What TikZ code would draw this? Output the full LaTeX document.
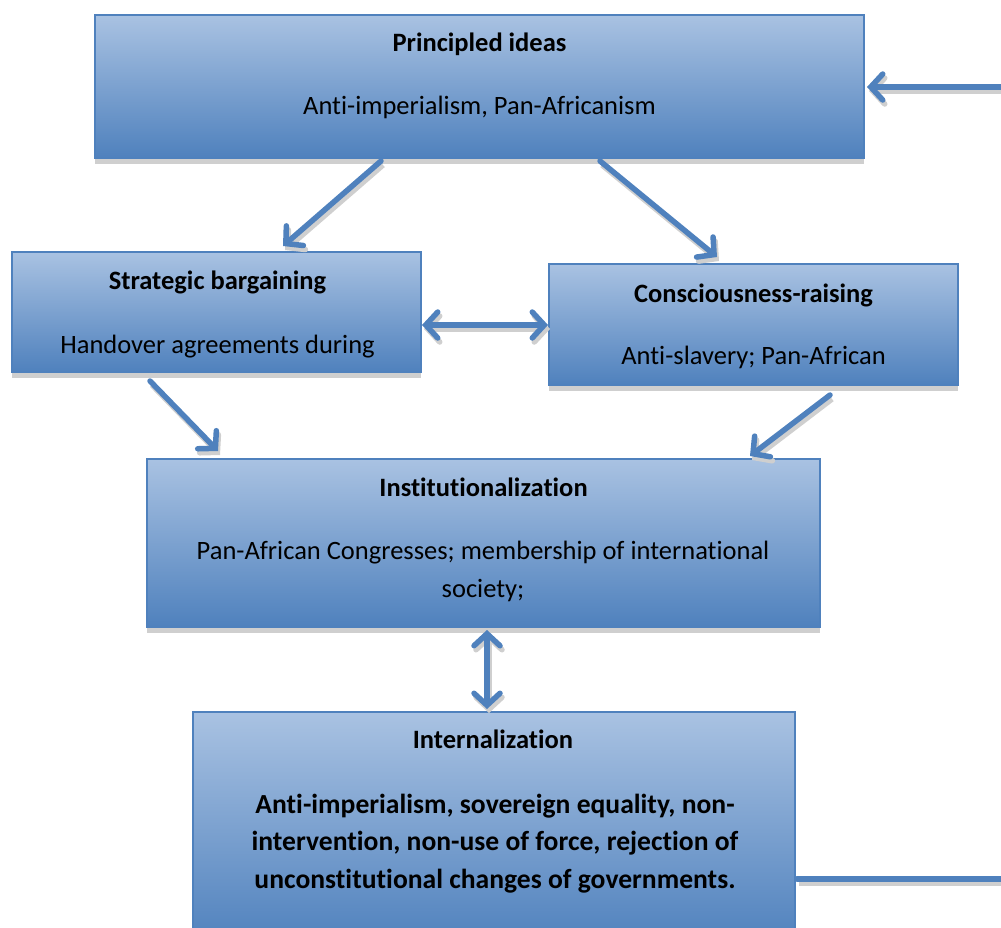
\documentclass[tikz,border=0pt]{standalone}
\usepackage{fontspec}
\setmainfont{Carlito}[Ligatures={NoCommon,NoRequired,NoContextual}]
\usetikzlibrary{arrows.meta,shadows}
\definecolor{accent}{HTML}{4F81BD}
\definecolor{lightacc}{HTML}{A9C2E2}
\definecolor{shad}{HTML}{CFCFCF}
\tikzset{
  box/.style={draw=accent, line width=1.5pt, top color=lightacc, bottom color=accent,
    drop shadow={shadow xshift=0pt, shadow yshift=-6pt, fill=shad, opacity=1}},
  ttl/.style={font=\fontsize{26.5}{30}\selectfont\bfseries, anchor=base, inner sep=0pt},
  txt/.style={font=\fontsize{26.5}{38}\selectfont, anchor=base, align=center, inner sep=0pt},
  btxt/.style={font=\fontsize{27.6}{37.5}\selectfont\bfseries, anchor=base, align=center, inner sep=0pt},
  conn/.style={draw=accent, line width=5.5pt, line cap=round,
    preaction={draw=shad, line width=5.5pt, transform canvas={shift={(2pt,-4pt)}}}},
  tip/.style={-{Straight Barb[length=12pt, width=26pt, line width=5.5pt, line cap=round]}},
  dtip/.style={{Straight Barb[length=12pt, width=26pt, line width=5.5pt, line cap=round]}-{Straight Barb[length=12pt, width=26pt, line width=5.5pt, line cap=round]}},
}
\begin{document}
\begin{tikzpicture}[x=1pt, y=-1pt]
\useasboundingbox (0,0) rectangle (1001,927);
\clip (0,0) rectangle (1001,927);
% boxes
\path[box] (95,15) rectangle (864,158);
\path[box] (12,252) rectangle (421,372);
\path[box] (549,264) rectangle (958,385);
\path[box] (147,459) rectangle (820,627);
\path[box] (193,712) rectangle (795,945);
% texts
\node[ttl] (t1) at (479.5,51.5) {Principled ideas};
\node[txt] (b1) at (479.5,114.5) {Anti-imperialism, Pan-Africanism};
\node[ttl] (t2) at (217.5,289.5) {Strategic bargaining};
\node[txt] (b2) at (217.5,353.5) {Handover agreements during};
\node[ttl] (t3) at (753.5,302.5) {Consciousness-raising};
\node[txt] (b3) at (753.5,364.5) {Anti-slavery; Pan-African};
\node[ttl] (t4) at (483.5,496.5) {Institutionalization};
\node[txt] (b4) at (483,597.5) {Pan-African Congresses; membership of international\\society;};
\node[ttl] (t5) at (493,748.5) {Internalization};
\node[btxt] (b5) at (495,888) {Anti-imperialism, sovereign equality, non-\\intervention, non-use of force, rejection of\\unconstitutional changes of governments.};
% connector anchors
\coordinate (p1a) at (381,161);
\coordinate (p1b) at (283,246);
\coordinate (p2a) at (600,161);
\coordinate (p2b) at (717,257);
\coordinate (s1) at (422,325);
\coordinate (c1) at (548,325);
\coordinate (s2) at (150,381);
\coordinate (i1) at (218,451);
\coordinate (c2) at (830,395);
\coordinate (i2) at (750,456);
\coordinate (i3) at (487,630);
\coordinate (n1) at (487,709);
\coordinate (n2) at (797,879);
\coordinate (e1) at (1010,879);
\coordinate (e2) at (1010,87);
\coordinate (p3) at (867,87);
% connectors
\draw[conn, tip] (p1a) -- (p1b);
\draw[conn, tip] (p2a) -- (p2b);
\draw[conn, dtip] (s1) -- (c1);
\draw[conn, tip] (s2) -- (i1);
\draw[conn, tip] (c2) -- (i2);
\draw[conn, dtip] (i3) -- (n1);
\draw[conn] (n2) -- (e1);
\draw[conn, tip] (e2) -- (p3);
\end{tikzpicture}
\end{document}
